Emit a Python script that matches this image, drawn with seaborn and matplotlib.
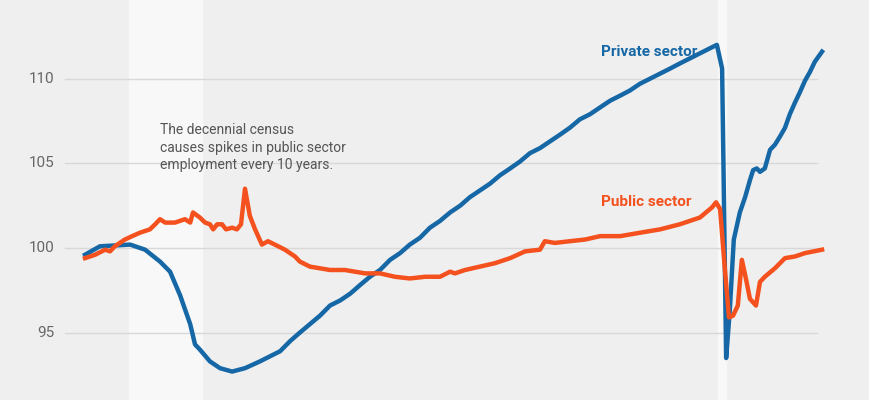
import matplotlib
matplotlib.use("Agg")
import matplotlib.pyplot as plt
import seaborn as sns
import pandas as pd

# months since Jan 2007, index values
priv_m = [0, 3.7, 11.2, 14.9, 18.6, 21.1, 23.6, 26.1, 27.3, 28.5, 31.0, 33.5, 36.5, 39.7, 43.4, 45.9,
          48.4, 50.9, 53.3, 55.8, 58.3, 60.8, 63.3, 65.8, 68.2, 70.7, 73.2, 75.7, 78.2, 80.6, 83.1,
          85.6, 88.1, 90.6, 93.1, 95.5, 98.0, 100.5, 103.0, 105.5, 107.9, 110.4, 112.9, 115.4, 117.9,
          120.3, 122.8, 125.3, 127.8, 130.3, 132.8, 135.2, 137.7, 140.2, 142.7, 145.2, 147.6, 150.1,
          152.6, 155.1, 156.8, 158.1, 159.1, 160.0, 161.0, 162.5, 163.8, 165.0, 165.8, 166.7, 167.5,
          168.7, 170.0, 171.2, 172.5, 173.7, 174.9, 176.2, 177.4, 178.7, 179.9, 181.1, 182.9]
priv_v = [99.6, 100.1, 100.2, 99.9, 99.2, 98.6, 97.2, 95.5, 94.3, 94.0, 93.3, 92.9, 92.7, 92.9, 93.3, 93.6,
          93.9, 94.5, 95.0, 95.5, 96.0, 96.6, 96.9, 97.3, 97.8, 98.3, 98.7, 99.3, 99.7, 100.2, 100.6,
          101.2, 101.6, 102.1, 102.5, 103.0, 103.4, 103.8, 104.3, 104.7, 105.1, 105.6, 105.9, 106.3, 106.7,
          107.1, 107.6, 107.9, 108.3, 108.7, 109.0, 109.3, 109.7, 110.0, 110.3, 110.6, 110.9, 111.2,
          111.5, 111.8, 112.0, 110.6, 93.5, 96.3, 100.5, 102.1, 103.0, 104.0, 104.6, 104.7, 104.5,
          104.7, 105.8, 106.1, 106.6, 107.1, 107.9, 108.6, 109.2, 109.9, 110.4, 111.0, 111.6]

pub_m = [0, 2.5, 5, 6.2, 7.4, 9.9, 11.7, 13.6, 16.1, 17.4, 18.6, 19.9, 22.3, 24.8, 26.1, 26.8, 28.5,
         29.8, 31.0, 31.8, 32.8, 34.0, 35.0, 36.5, 37.7, 38.7, 39.7, 40.9, 42.2, 43.9, 45.4, 47.1, 49.6,
         52.1, 53.3, 55.8, 58.3, 60.8, 64.5, 67.0, 69.5, 73.2, 76.9, 80.6, 84.4, 88.1, 90.6, 91.8, 94.3,
         98.0, 101.7, 105.5, 109.2, 112.9, 114.1, 116.6, 120.3, 124.1, 127.8, 132.8, 137.7, 142.7, 147.6,
         152.6, 155.6, 156.6, 157.6, 158.8, 159.8, 160.8, 162.0, 163.0, 164.0, 165.0, 166.5, 167.5, 168.7,
         171.2, 173.7, 176.2, 178.7, 182.9]
pub_v = [99.4, 99.6, 99.9, 99.8, 100.1, 100.5, 100.7, 100.9, 101.1, 101.4, 101.7, 101.5, 101.5, 101.7,
         101.5, 102.1, 101.8, 101.5, 101.4, 101.1, 101.4, 101.4, 101.1, 101.2, 101.1, 101.4, 103.5, 101.9,
         101.1, 100.2, 100.4, 100.2, 99.9, 99.5, 99.2, 98.9, 98.8, 98.7, 98.7, 98.6, 98.5, 98.5, 98.3, 98.2,
         98.3, 98.3, 98.6, 98.5, 98.7, 98.9, 99.1, 99.4, 99.8, 99.9, 100.4, 100.3, 100.4, 100.5, 100.7,
         100.7, 100.9, 101.1, 101.4, 101.8, 102.4, 102.7, 102.3, 98.7, 95.9, 96.0, 96.6, 99.3, 98.2, 97.0,
         96.6, 98.0, 98.3, 98.8, 99.4, 99.5, 99.7, 99.9]

recessions = [(11, 29), (157, 159)]
y_ticks = [95, 100, 105, 110, 115]

df = pd.concat([
    pd.DataFrame({"month": priv_m, "index": priv_v, "sector": "Private sector"}),
    pd.DataFrame({"month": pub_m, "index": pub_v, "sector": "Public sector"}),
])

blue = "#1667a6"
orange = "#f4511e"
grey = "#666666"

fig = plt.figure(figsize=(8.7, 4.0), dpi=100)
fig.patch.set_facecolor("#efefef")
ax = fig.add_axes([0, 0, 1, 1])
ax.set_facecolor("#efefef")
ax.set_xlim(-21.1, 194.8)
ax.set_ylim(91.02, 114.65)

for a, b in recessions:
    ax.axvspan(a, b, color="#f8f8f8", zorder=0)
for t in y_ticks:
    ax.plot([-5, 181.6], [t, t], color="#d8d8d8", lw=1, zorder=1)
    ax.text(-7.5, t, str(t), ha="right", va="center", fontsize=11, color=grey, family="Roboto")

sns.lineplot(data=df, x="month", y="index", hue="sector", palette=[blue, orange],
             lw=3.2, legend=False, ax=ax, zorder=3)

ax.text(152, 111.6, "Private sector", color=blue, fontsize=11, fontweight="bold",
        ha="right", va="center", family="Roboto")
ax.text(150.5, 102.7, "Public sector", color=orange, fontsize=11, fontweight="bold",
        ha="right", va="center", family="Roboto")
ax.text(18.5, 107.4, "The decennial census\ncauses spikes in public sector\nemployment every 10 years.",
        color="#555555", fontsize=10, ha="left", va="top", family="Roboto", linespacing=1.35)

ax.axis("off")
fig.savefig("out.png", dpi=100, facecolor=fig.get_facecolor())
